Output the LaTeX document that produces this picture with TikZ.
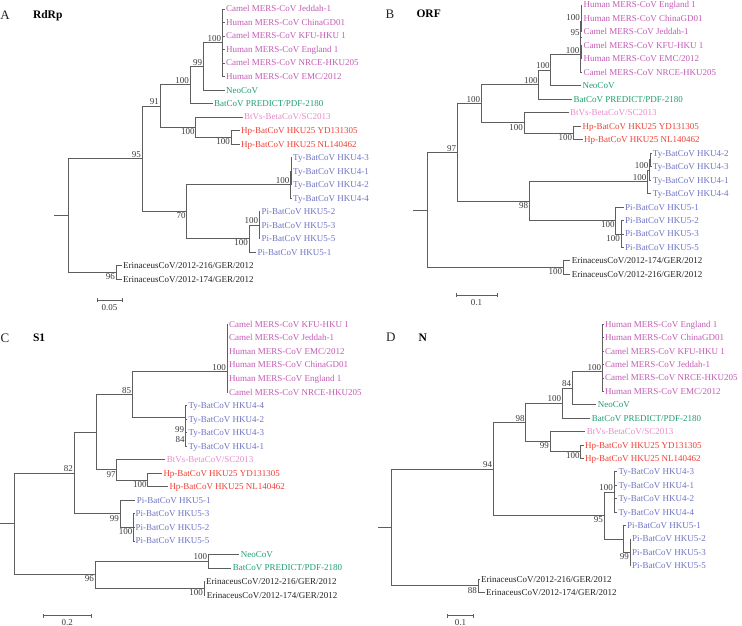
\documentclass[tikz,border=0pt]{standalone}
\usepackage{fontspec}
\setmainfont{Liberation Serif}
\usetikzlibrary{arrows.meta}
\definecolor{mers}{HTML}{C25BB3}
\definecolor{neo}{HTML}{1F9E6F}
\definecolor{btvs}{HTML}{E78BCB}
\definecolor{hpbat}{HTML}{EE4035}
\definecolor{tybat}{HTML}{6E73C2}
\definecolor{erin}{HTML}{222222}
\definecolor{branchgray}{HTML}{5E5E5E}
\definecolor{bsgray}{HTML}{3A3A3A}
\newcommand{\tipfont}{\fontsize{9}{10}\selectfont}

\begin{document}
\begin{tikzpicture}[
  x=1pt, y=-1pt,
  branch/.style={draw=branchgray, line width=0.8pt},
  tip/.style={anchor=west, inner xsep=1.5pt, inner ysep=0pt, text height=6pt,
    text depth=0pt, font=\tipfont, text=#1},
  tip/.default=erin,
  bsup/.style={anchor=south east, inner sep=1pt, text height=6pt, text depth=0pt,
    font=\tipfont, text=bsgray},
  bsdown/.style={bsup, anchor=north east},
  bsmid/.style={bsup, anchor=east},
  panel/.style={anchor=base, font=\fontsize{13}{15}\selectfont, text=erin},
  gene/.style={anchor=base west, font=\fontsize{11.5}{13}\selectfont\bfseries},
  scalebar/.style={branch, {Bar[width=4pt]}-{Bar[width=4pt]}},
  scalelbl/.style={font=\tipfont, text=bsgray, inner sep=0pt, text height=6pt, text depth=0pt},
]

\useasboundingbox (0,0) rectangle (742,626);

% ============================================================
% Panel A: RdRp
% ============================================================
\node[panel] (pA) at (5,19.3) {A};
\node[gene] (gA) at (29.5,18.8) {RdRp};

% tips
\node[tip=mers] (a1) at (224.5,9) {Camel MERS-CoV Jeddah-1};
\node[tip=mers] (a2) at (224.5,22.5) {Human MERS-CoV ChinaGD01};
\node[tip=mers] (a3) at (224.5,36) {Camel MERS-CoV KFU-HKU 1};
\node[tip=mers] (a4) at (224.5,49.5) {Human MERS-CoV England 1};
\node[tip=mers] (a5) at (224.5,63) {Camel MERS-CoV NRCE-HKU205};
\node[tip=mers] (a6) at (224.5,76.5) {Human MERS-CoV EMC/2012};
\node[tip=neo] (a7) at (224.5,90) {NeoCoV};
\node[tip=neo] (a8) at (212.5,103.5) {BatCoV PREDICT/PDF-2180};
\node[tip=btvs] (a9) at (242.5,117) {BtVs-BetaCoV/SC2013};
\node[tip=hpbat] (a10) at (239.5,130.5) {Hp-BatCoV HKU25 YD131305};
\node[tip=hpbat] (a11) at (239.5,144) {Hp-BatCoV HKU25 NL140462};
\node[tip=tybat] (a12) at (291.5,157.5) {Ty-BatCoV HKU4-3};
\node[tip=tybat] (a13) at (291.5,171) {Ty-BatCoV HKU4-1};
\node[tip=tybat] (a14) at (291.5,184.5) {Ty-BatCoV HKU4-2};
\node[tip=tybat] (a15) at (291.5,198) {Ty-BatCoV HKU4-4};
\node[tip=tybat] (a16) at (260,211.5) {Pi-BatCoV HKU5-2};
\node[tip=tybat] (a17) at (260,225) {Pi-BatCoV HKU5-3};
\node[tip=tybat] (a18) at (260,238.5) {Pi-BatCoV HKU5-5};
\node[tip=tybat] (a19) at (256,252) {Pi-BatCoV HKU5-1};
\node[tip] (a20) at (121.5,265.5) {ErinaceusCoV/2012-216/GER/2012};
\node[tip] (a21) at (121.5,279) {ErinaceusCoV/2012-174/GER/2012};

% inner nodes
\coordinate (aStub) at (54,215.5);
\coordinate (aRoot) at (68,215.5);
\coordinate (a95) at (142,158.75);
\coordinate (aE) at (116,272.25);
\coordinate (a91) at (160,106);
\coordinate (a70) at (186.7,211.5);
\coordinate (aN100) at (190,84.9);
\coordinate (aB) at (195.7,127.1);
\coordinate (a99) at (203.3,66.4);
\coordinate (aMers) at (222.3,42.75);
\coordinate (aHp) at (231,137.25);
\coordinate (aTy) at (290.5,184.5);
\coordinate (aTyIn) at (291,171);
\coordinate (aPi) at (249,238.5);
\coordinate (aPi2) at (259.3,225);

% branches
\draw[branch] (aStub) -- (aRoot);
\draw[branch] (aRoot) |- (a95);
\draw[branch] (aRoot) |- (aE);
\draw[branch] (a95) |- (a91);
\draw[branch] (a95) |- (a70);
\draw[branch] (a91) |- (aN100);
\draw[branch] (a91) |- (aB);
\draw[branch] (aN100) |- (a99);
\draw[branch] (aN100) |- (a8.west);
\draw[branch] (a99) |- (aMers);
\draw[branch] (a99) |- (a7.west);
\foreach \t in {a1,a2,a3,a4,a5,a6} \draw[branch] (aMers) |- (\t.west);
\draw[branch] (aB) |- (a9.west);
\draw[branch] (aB) |- (aHp);
\foreach \t in {a10,a11} \draw[branch] (aHp) |- (\t.west);
\draw[branch] (a70) |- (aTy);
\draw[branch] (a70) |- (aPi);
\draw[branch] (aTy) |- (aTyIn);
\draw[branch] (aTy) |- (a15.west);
\foreach \t in {a12,a13,a14} \draw[branch] (aTyIn) |- (\t.west);
\draw[branch] (aPi) |- (aPi2);
\draw[branch] (aPi) |- (a19.west);
\foreach \t in {a16,a17,a18} \draw[branch] (aPi2) |- (\t.west);
\foreach \t in {a20,a21} \draw[branch] (aE) |- (\t.west);

% bootstrap values
\node[bsup] (la95) at (a95) {95};
\node[bsup] (la91) at (a91) {91};
\node[bsdown] (la70) at (a70) {70};
\node[bsup] (laN100) at (aN100) {100};
\node[bsup] (la99) at (a99) {99};
\node[bsup] (laMers) at (aMers) {100};
\node[bsdown] (laB) at (aB) {100};
\node[bsdown] (laHp) at (aHp) {100};
\node[bsup] (laTy) at (aTy) {100};
\node[bsdown] (laPi) at (aPi) {100};
\node[bsup] (laPi2) at (aPi2) {100};
\node[bsdown] (laE) at (aE) {96};

% scale
\coordinate (sA1) at (96.7,300);
\coordinate (sA2) at (122.3,300);
\draw[scalebar] (sA1) -- (sA2);
\node[scalelbl] (sAl) at (109.5,307) {0.05};

% ============================================================
% Panel B: ORF
% ============================================================
\node[panel] (pB) at (390,18.3) {B};
\node[gene] (gB) at (413,17.3) {ORF};

% tips
\node[tip=mers] (b1) at (581.8,5) {Human MERS-CoV England 1};
\node[tip=mers] (b2) at (581.8,18.5) {Human MERS-CoV ChinaGD01};
\node[tip=mers] (b3) at (581.8,31.9) {Camel MERS-CoV Jeddah-1};
\node[tip=mers] (b4) at (581.8,45.4) {Camel MERS-CoV KFU-HKU 1};
\node[tip=mers] (b5) at (581.8,58.9) {Human MERS-CoV EMC/2012};
\node[tip=mers] (b6) at (581.8,72.3) {Camel MERS-CoV NRCE-HKU205};
\node[tip=neo] (b7) at (580.8,85.8) {NeoCoV};
\node[tip=neo] (b8) at (571.8,99.3) {BatCoV PREDICT/PDF-2180};
\node[tip=btvs] (b9) at (568.5,112.7) {BtVs-BetaCoV/SC2013};
\node[tip=hpbat] (b10) at (580.8,126.2) {Hp-BatCoV HKU25 YD131305};
\node[tip=hpbat] (b11) at (582.5,139.7) {Hp-BatCoV HKU25 NL140462};
\node[tip=tybat] (b12) at (651.2,153.1) {Ty-BatCoV HKU4-2};
\node[tip=tybat] (b13) at (651.2,166.6) {Ty-BatCoV HKU4-3};
\node[tip=tybat] (b14) at (651.2,180) {Ty-BatCoV HKU4-1};
\node[tip=tybat] (b15) at (651.2,193.5) {Ty-BatCoV HKU4-4};
\node[tip=tybat] (b16) at (623.5,207) {Pi-BatCoV HKU5-1};
\node[tip=tybat] (b17) at (623.5,220.4) {Pi-BatCoV HKU5-2};
\node[tip=tybat] (b18) at (623.5,233.9) {Pi-BatCoV HKU5-3};
\node[tip=tybat] (b19) at (623.5,247.4) {Pi-BatCoV HKU5-5};
\node[tip] (b20) at (570.2,260.8) {ErinaceusCoV/2012-174/GER/2012};
\node[tip] (b21) at (570.2,274.3) {ErinaceusCoV/2012-216/GER/2012};

% inner nodes
\coordinate (bStub) at (413.3,210);
\coordinate (bRoot) at (427.3,210);
\coordinate (b97) at (457.3,152.45);
\coordinate (bE) at (563.3,267.55);
\coordinate (b100) at (481.3,103.8);
\coordinate (b98) at (529.3,201.1);
\coordinate (bX) at (538.7,84.75);
\coordinate (bB) at (524,122.8);
\coordinate (bY) at (550.7,70.2);
\coordinate (bMers) at (580.5,54.6);
\coordinate (bM95) at (580.8,37);
\coordinate (bM100) at (581.1,21.8);
\coordinate (bMec) at (581.4,11.75);
\coordinate (bMke) at (581.4,52.15);
\coordinate (bHp) at (573.3,132.95);
\coordinate (bTy3) at (647.5,181.7);
\coordinate (bTy2) at (649.5,169.9);
\coordinate (bTy1) at (650.5,159.85);
\coordinate (bPi) at (615.7,220.45);
\coordinate (bPi2) at (621,233.9);

% branches
\draw[branch] (bStub) -- (bRoot);
\draw[branch] (bRoot) |- (b97);
\draw[branch] (bRoot) |- (bE);
\draw[branch] (b97) |- (b100);
\draw[branch] (b97) |- (b98);
\draw[branch] (b100) |- (bX);
\draw[branch] (b100) |- (bB);
\draw[branch] (bX) |- (bY);
\draw[branch] (bX) |- (b8.west);
\draw[branch] (bY) |- (bMers);
\draw[branch] (bY) |- (b7.west);
\draw[branch] (bMers) |- (bM95);
\draw[branch] (bMers) |- (b6.west);
\draw[branch] (bM95) |- (bM100);
\draw[branch] (bM95) |- (bMke);
\draw[branch] (bM100) |- (bMec);
\draw[branch] (bM100) |- (b3.west);
\foreach \t in {b1,b2} \draw[branch] (bMec) |- (\t.west);
\foreach \t in {b4,b5} \draw[branch] (bMke) |- (\t.west);
\draw[branch] (bB) |- (b9.west);
\draw[branch] (bB) |- (bHp);
\foreach \t in {b10,b11} \draw[branch] (bHp) |- (\t.west);
\draw[branch] (b98) |- (bTy3);
\draw[branch] (b98) |- (bPi);
\draw[branch] (bTy3) |- (bTy2);
\draw[branch] (bTy3) |- (b15.west);
\draw[branch] (bTy2) |- (bTy1);
\draw[branch] (bTy2) |- (b14.west);
\foreach \t in {b12,b13} \draw[branch] (bTy1) |- (\t.west);
\draw[branch] (bPi) |- (b16.west);
\draw[branch] (bPi) |- (bPi2);
\foreach \t in {b17,b18,b19} \draw[branch] (bPi2) |- (\t.west);
\foreach \t in {b20,b21} \draw[branch] (bE) |- (\t.west);

% bootstrap values
\node[bsup] (lb97) at (b97) {97};
\node[bsup] (lb100) at (b100) {100};
\node[bsup] (lbX) at (bX) {100};
\node[bsup] (lbY) at (bY) {100};
\node[bsup] (lbMers) at (bMers) {100};
\node[bsup] (lbM95) at (bM95) {95};
\node[bsup] (lbM100) at (bM100) {100};
\node[bsdown] (lbB) at (bB) {100};
\node[bsdown] (lbHp) at (bHp) {100};
\node[bsdown] (lb98) at (b98) {98};
\node[bsup] (lbTy3) at (bTy3) {100};
\node[bsup] (lbTy2) at (bTy2) {100};
\node[bsdown] (lbPi) at (bPi) {100};
\node[bsdown] (lbPi2) at (bPi2) {100};
\node[bsdown] (lbE) at (bE) {100};

% scale
\coordinate (sB1) at (455.7,295);
\coordinate (sB2) at (497.3,295);
\draw[scalebar] (sB1) -- (sB2);
\node[scalelbl] (sBl) at (476.5,302) {0.1};

% ============================================================
% Panel C: S1
% ============================================================
\node[panel] (pC) at (5,342) {C};
\node[gene] (gC) at (29.5,341.5) {S1};

% tips
\node[tip=mers] (c1) at (227.5,324.3) {Camel MERS-CoV KFU-HKU 1};
\node[tip=mers] (c2) at (227.5,337.8) {Camel MERS-CoV Jeddah-1};
\node[tip=mers] (c3) at (227.5,351.4) {Human MERS-CoV EMC/2012};
\node[tip=mers] (c4) at (227.5,364.9) {Human MERS-CoV ChinaGD01};
\node[tip=mers] (c5) at (227.5,378.4) {Human MERS-CoV England 1};
\node[tip=mers] (c6) at (227.5,392) {Camel MERS-CoV NRCE-HKU205};
\node[tip=tybat] (c7) at (186.8,405.5) {Ty-BatCoV HKU4-4};
\node[tip=tybat] (c8) at (186.8,419) {Ty-BatCoV HKU4-2};
\node[tip=tybat] (c9) at (186.8,432.6) {Ty-BatCoV HKU4-3};
\node[tip=tybat] (c10) at (186.8,446.1) {Ty-BatCoV HKU4-1};
\node[tip=btvs] (c11) at (165.2,459.7) {BtVs-BetaCoV/SC2013};
\node[tip=hpbat] (c12) at (161.8,473.2) {Hp-BatCoV HKU25 YD131305};
\node[tip=hpbat] (c13) at (167.8,486.7) {Hp-BatCoV HKU25 NL140462};
\node[tip=tybat] (c14) at (135.2,500.3) {Pi-BatCoV HKU5-1};
\node[tip=tybat] (c15) at (134,513.8) {Pi-BatCoV HKU5-3};
\node[tip=tybat] (c16) at (134,527.3) {Pi-BatCoV HKU5-2};
\node[tip=tybat] (c17) at (134,540.9) {Pi-BatCoV HKU5-5};
\node[tip=neo] (c18) at (239.2,554.4) {NeoCoV};
\node[tip=neo] (c19) at (231.2,567.9) {BatCoV PREDICT/PDF-2180};
\node[tip] (c20) at (204.5,581.5) {ErinaceusCoV/2012-216/GER/2012};
\node[tip] (c21) at (205.2,595) {ErinaceusCoV/2012-174/GER/2012};

% inner nodes
\coordinate (cStub) at (0,523.85);
\coordinate (cRoot) at (14,523.85);
\coordinate (c82) at (74,473);
\coordinate (c96) at (95,574.7);
\coordinate (cU) at (96,432.15);
\coordinate (cPi) at (120,513.8);
\coordinate (c85) at (132.3,394.5);
\coordinate (c97) at (116.7,469.8);
\coordinate (cMers) at (227,371.7);
\coordinate (cMersIn) at (227.2,351.35);
\coordinate (cT3) at (185,417.35);
\coordinate (cT2) at (185.4,429.2);
\coordinate (cT1) at (185.8,439.35);
\coordinate (cHp) at (147.7,479.95);
\coordinate (cPi2) at (133.5,527.35);
\coordinate (cNP) at (208.3,561.15);
\coordinate (cE) at (204,588.25);

% branches
\draw[branch] (cStub) -- (cRoot);
\draw[branch] (cRoot) |- (c82);
\draw[branch] (cRoot) |- (c96);
\draw[branch] (c82) |- (cU);
\draw[branch] (c82) |- (cPi);
\draw[branch] (cU) |- (c85);
\draw[branch] (cU) |- (c97);
\draw[branch] (c85) |- (cMers);
\draw[branch] (c85) |- (cT3);
\draw[branch] (cMers) |- (cMersIn);
\draw[branch] (cMers) |- (c6.west);
\foreach \t in {c1,c2,c3,c4,c5} \draw[branch] (cMersIn) |- (\t.west);
\draw[branch] (cT3) |- (c7.west);
\draw[branch] (cT3) |- (cT2);
\draw[branch] (cT2) |- (c8.west);
\draw[branch] (cT2) |- (cT1);
\foreach \t in {c9,c10} \draw[branch] (cT1) |- (\t.west);
\draw[branch] (c97) |- (c11.west);
\draw[branch] (c97) |- (cHp);
\foreach \t in {c12,c13} \draw[branch] (cHp) |- (\t.west);
\draw[branch] (cPi) |- (c14.west);
\draw[branch] (cPi) |- (cPi2);
\foreach \t in {c15,c16,c17} \draw[branch] (cPi2) |- (\t.west);
\draw[branch] (c96) |- (cNP);
\draw[branch] (c96) |- (cE);
\foreach \t in {c18,c19} \draw[branch] (cNP) |- (\t.west);
\foreach \t in {c20,c21} \draw[branch] (cE) |- (\t.west);

% bootstrap values
\node[bsup] (lc82) at (c82) {82};
\node[bsup] (lc85) at (c85) {85};
\node[bsup] (lcMers) at (cMers) {100};
\node[bsmid] (lcT2) at (cT2) {99};
\node[bsmid] (lcT1) at (cT1) {84};
\node[bsdown] (lc97) at (c97) {97};
\node[bsdown] (lcHp) at (cHp) {100};
\node[bsdown] (lcPi) at (cPi) {99};
\node[bsdown] (lcPi2) at (cPi2) {100};
\node[bsup] (lcNP) at (cNP) {100};
\node[bsdown] (lcE) at (cE) {100};
\node[bsdown] (lc96) at (c96) {96};

% scale
\coordinate (sC1) at (42.7,615.7);
\coordinate (sC2) at (91.7,615.7);
\draw[scalebar] (sC1) -- (sC2);
\node[scalelbl] (sCl) at (67.2,622) {0.2};

% ============================================================
% Panel D: N
% ============================================================
\node[panel] (pD) at (390.7,341) {D};
\node[gene] (gD) at (415,341.5) {N};

% tips
\node[tip=mers] (d1) at (603.5,324.3) {Human MERS-CoV England 1};
\node[tip=mers] (d2) at (603.5,337.7) {Human MERS-CoV ChinaGD01};
\node[tip=mers] (d3) at (603.5,351.1) {Camel MERS-CoV KFU-HKU 1};
\node[tip=mers] (d4) at (603.5,364.5) {Camel MERS-CoV Jeddah-1};
\node[tip=mers] (d5) at (603.5,377.9) {Camel MERS-CoV NRCE-HKU205};
\node[tip=mers] (d6) at (603.5,391.4) {Human MERS-CoV EMC/2012};
\node[tip=neo] (d7) at (596.2,404.8) {NeoCoV};
\node[tip=neo] (d8) at (590.2,418.2) {BatCoV PREDICT/PDF-2180};
\node[tip=btvs] (d9) at (585.2,431.6) {BtVs-BetaCoV/SC2013};
\node[tip=hpbat] (d10) at (583.5,445) {Hp-BatCoV HKU25 YD131305};
\node[tip=hpbat] (d11) at (583.5,458.4) {Hp-BatCoV HKU25 NL140462};
\node[tip=tybat] (d12) at (616.8,471.8) {Ty-BatCoV HKU4-3};
\node[tip=tybat] (d13) at (616.8,485.2) {Ty-BatCoV HKU4-1};
\node[tip=tybat] (d14) at (616.8,498.6) {Ty-BatCoV HKU4-2};
\node[tip=tybat] (d15) at (616.8,512) {Ty-BatCoV HKU4-4};
\node[tip=tybat] (d16) at (625.5,525.5) {Pi-BatCoV HKU5-1};
\node[tip=tybat] (d17) at (630.5,538.9) {Pi-BatCoV HKU5-2};
\node[tip=tybat] (d18) at (630.5,552.3) {Pi-BatCoV HKU5-3};
\node[tip=tybat] (d19) at (630.5,565.7) {Pi-BatCoV HKU5-5};
\node[tip] (d20) at (479.5,579.1) {ErinaceusCoV/2012-216/GER/2012};
\node[tip] (d21) at (484.5,592.5) {ErinaceusCoV/2012-174/GER/2012};

% inner nodes
\coordinate (dStub) at (378,527.35);
\coordinate (dRoot) at (391.7,527.35);
\coordinate (d94) at (493.3,468.9);
\coordinate (dE) at (478,585.8);
\coordinate (d98) at (525.7,422.4);
\coordinate (d95) at (604,515.4);
\coordinate (d100) at (562.3,403.1);
\coordinate (d99) at (550,441.65);
\coordinate (d84) at (572.3,388);
\coordinate (dMers) at (602.3,371.25);
\coordinate (dMersIn) at (602.7,351.1);
\coordinate (dHp) at (580.7,451.7);
\coordinate (dTy) at (614,491.9);
\coordinate (dPi) at (623,538.9);
\coordinate (dPi2) at (630,552.3);

% branches
\draw[branch] (dStub) -- (dRoot);
\draw[branch] (dRoot) |- (d94);
\draw[branch] (dRoot) |- (dE);
\draw[branch] (d94) |- (d98);
\draw[branch] (d94) |- (d95);
\draw[branch] (d98) |- (d100);
\draw[branch] (d98) |- (d99);
\draw[branch] (d100) |- (d84);
\draw[branch] (d100) |- (d8.west);
\draw[branch] (d84) |- (dMers);
\draw[branch] (d84) |- (d7.west);
\draw[branch] (dMers) |- (dMersIn);
\draw[branch] (dMers) |- (d6.west);
\foreach \t in {d1,d2,d3,d4,d5} \draw[branch] (dMersIn) |- (\t.west);
\draw[branch] (d99) |- (d9.west);
\draw[branch] (d99) |- (dHp);
\foreach \t in {d10,d11} \draw[branch] (dHp) |- (\t.west);
\draw[branch] (d95) |- (dTy);
\draw[branch] (d95) |- (dPi);
\foreach \t in {d12,d13,d14,d15} \draw[branch] (dTy) |- (\t.west);
\draw[branch] (dPi) |- (d16.west);
\draw[branch] (dPi) |- (dPi2);
\foreach \t in {d17,d18,d19} \draw[branch] (dPi2) |- (\t.west);
\foreach \t in {d20,d21} \draw[branch] (dE) |- (\t.west);

% bootstrap values
\node[bsup] (ld94) at (d94) {94};
\node[bsup] (ld98) at (d98) {98};
\node[bsup] (ld100) at (d100) {100};
\node[bsup] (ld84) at (d84) {84};
\node[bsup] (ldMers) at (dMers) {100};
\node[bsdown] (ld99) at (d99) {99};
\node[bsdown] (ldHp) at (dHp) {100};
\node[bsup] (ldTy) at (dTy) {100};
\node[bsdown] (ld95) at (d95) {95};
\node[bsdown] (ldPi2) at (dPi2) {99};
\node[bsdown] (ldE) at (dE) {88};

% scale
\coordinate (sD1) at (447,615.7);
\coordinate (sD2) at (474,615.7);
\draw[scalebar] (sD1) -- (sD2);
\node[scalelbl] (sDl) at (460.5,622) {0.1};

\end{tikzpicture}
\end{document}
